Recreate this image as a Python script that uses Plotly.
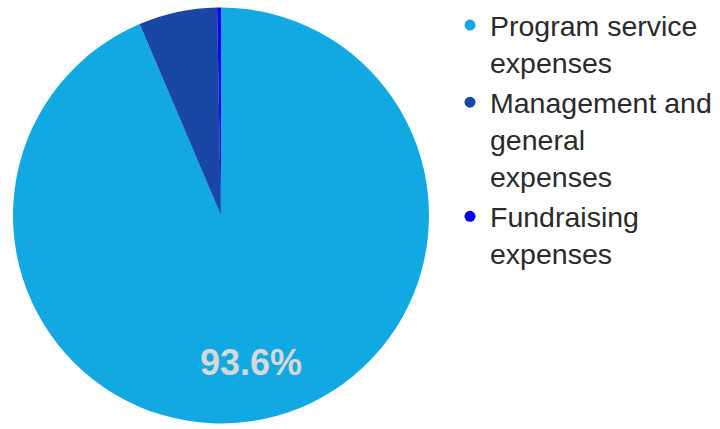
import plotly.graph_objects as go

categories = ["Program service expenses", "Management and general expenses", "Fundraising expenses"]
legend_labels = ["Program service<br>expenses", "Management and<br>general<br>expenses", "Fundraising<br>expenses"]
shares = [93.6, 6.1, 0.3]
colors = ["#12A9E2", "#1A47A6", "#0000EE"]
shown_text = ["%{percent:.1%}", "", ""]

W, H = 720, 429
pie_dom = dict(x=[11 / W, 431 / W], y=[(H - 423.5) / H, (H - 7.5) / H])

fig = go.Figure()
fig.add_trace(go.Pie(
    labels=categories,
    values=shares,
    sort=False,
    direction="clockwise",
    rotation=0,
    marker=dict(colors=colors, line=dict(width=0)),
    textinfo="none",
    showlegend=False,
    hoverinfo="label+percent",
    domain=pie_dom,
))
# transparent ring carrying the percentage label at the slice's outer part
fig.add_trace(go.Pie(
    labels=categories,
    values=shares,
    sort=False,
    direction="clockwise",
    rotation=0,
    hole=0.44,
    marker=dict(colors=["rgba(0,0,0,0)"] * 3, line=dict(width=0)),
    texttemplate=shown_text,
    textposition="inside",
    insidetextorientation="horizontal",
    textfont=dict(family="Liberation Sans, Arial", size=36, color="#D8D8D8", weight="bold"),
    showlegend=False,
    hoverinfo="skip",
    domain=pie_dom,
))

for lab, col in zip(legend_labels, colors):
    fig.add_trace(go.Scatter(
        x=[None], y=[None], mode="markers", name=lab,
        marker=dict(color=col, size=11, symbol="circle"),
        showlegend=True,
    ))

fig.update_layout(
    width=W, height=H,
    margin=dict(l=0, r=0, t=0, b=0),
    paper_bgcolor="white", plot_bgcolor="white",
    xaxis=dict(visible=False, domain=[0.99, 1]),
    yaxis=dict(visible=False, domain=[0.99, 1]),
    legend=dict(
        x=450 / W, y=1.0, xanchor="left", yanchor="top",
        font=dict(family="Liberation Sans, Arial", size=28.5, color="#2A2A2A"),
        tracegroupgap=2, itemsizing="trace", valign="top",
        bgcolor="rgba(0,0,0,0)",
    ),
)

fig.write_html("out.html", config={"displayModeBar": False},
               post_script="document.body.style.margin='0px';")
